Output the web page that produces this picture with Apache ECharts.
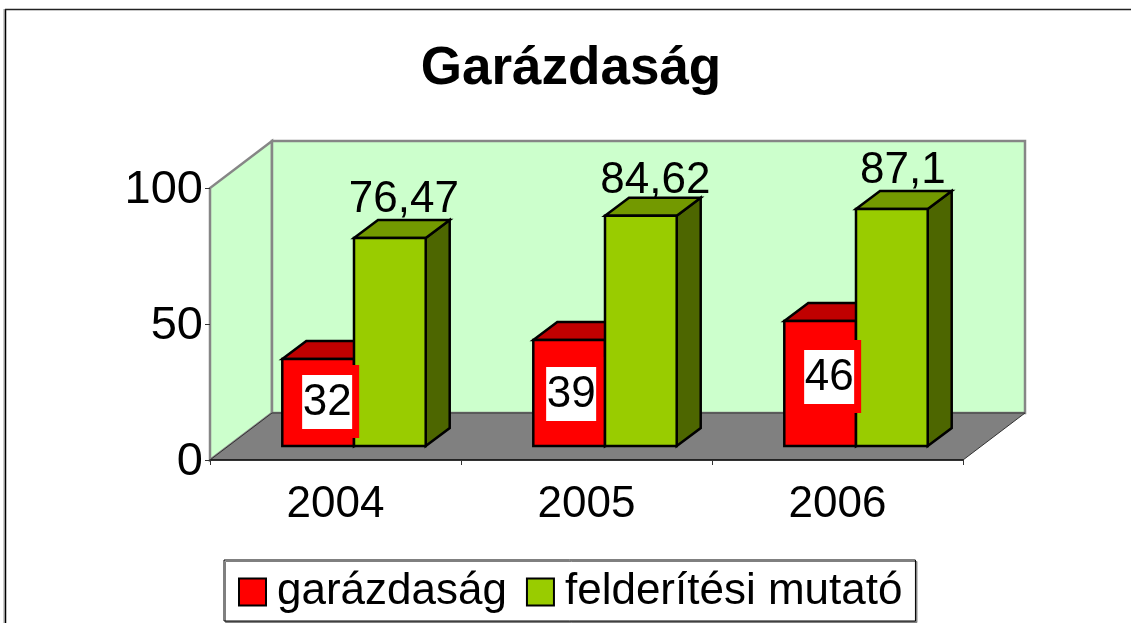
<!DOCTYPE html>
<html>
<head>
<meta charset="utf-8">
<style>
  html, body { margin: 0; padding: 0; background: #fff; }
  #chart { width: 1131px; height: 623px; }
</style>
<script src="https://cdn.jsdelivr.net/npm/echarts@6/dist/echarts.min.js"></script>
</head>
<body>
<div id="chart"></div>
<script>
const titleText = 'Garázdaság'
const years = ['2004', '2005', '2006']
const incidentName = 'garázdaság'
const detectionName = 'felderítési mutató'
const incidents = [32, 39, 46]
const detectionRate = [76.47, 84.62, 87.1]
const yTicks = [0, 50, 100]

// hand placed labels, offset from the middle of the bar
const incidentShiftX = [9, 2, 9]
const incidentShiftY = [-0.5, 1, -6.5]
const detectionShiftX = [2, 2.5, -1]
const detectionShiftY = [-20, -17, -20]

const fontName = '"Liberation Sans", Arial, sans-serif'
const floorOffset = [18.5, -14] // front of the floor to the front of the bars
const barDepth = [24, -18]
const wallOffset = [62, -47]
const barShare = 0.2857

function poly(points, fill, stroke, lineWidth) {
  return {
    type: 'polygon',
    shape: { points: points },
    style: { fill: fill, stroke: stroke, lineWidth: lineWidth === undefined ? 2.5 : lineWidth, lineJoin: 'miter' }
  }
}

function renderWalls(params) {
  const r = params.coordSys
  const x0 = r.x
  const x1 = r.x + r.width
  const top = r.y
  const bot = r.y + r.height
  const dx = wallOffset[0]
  const dy = wallOffset[1]
  return {
    type: 'group',
    children: [
      poly([[x0, bot], [x0 + dx, bot + dy], [x0 + dx, top + dy], [x0, top]], '#ccffcc', '#868686', 2.5),
      poly([[x0 + dx, bot + dy], [x1 + dx, bot + dy], [x1 + dx, top + dy], [x0 + dx, top + dy]], '#ccffcc', '#868686', 2.5),
      poly([[x0, bot], [x1, bot], [x1 + dx, bot + dy], [x0 + dx, bot + dy]], '#808080', '#333333', 1)
    ]
  }
}

function makeBarRenderer(side, front, roof, flank) {
  return function (params, api) {
    const i = api.value(0)
    const tip = api.coord([i, api.value(1)])
    const base = api.coord([i, 0])
    const w = api.size([1, 0])[0] * barShare
    const left = tip[0] + floorOffset[0] + (side < 0 ? -w : 0)
    const right = left + w
    const y0 = base[1] + floorOffset[1]
    const y1 = tip[1] + floorOffset[1]
    const dx = barDepth[0]
    const dy = barDepth[1]
    return {
      type: 'group',
      children: [
        poly([[right, y0], [right + dx, y0 + dy], [right + dx, y1 + dy], [right, y1]], flank, '#000'),
        poly([[left, y1], [left + dx, y1 + dy], [right + dx, y1 + dy], [right, y1]], roof, '#000'),
        poly([[left, y0], [right, y0], [right, y1], [left, y1]], front, '#000')
      ]
    }
  }
}

function renderIncidentLabel(params, api) {
  const i = api.value(0)
  const tip = api.coord([i, api.value(1)])
  const base = api.coord([i, 0])
  const w = api.size([1, 0])[0] * barShare
  const cx = tip[0] + floorOffset[0] - w / 2 + incidentShiftX[i]
  const cy = (tip[1] + base[1]) / 2 + floorOffset[1] + incidentShiftY[i]
  return {
    type: 'group',
    children: [
      { type: 'rect', shape: { x: cx - 25, y: cy - 37, width: 57, height: 73 }, style: { fill: '#ff0000' } },
      { type: 'rect', shape: { x: cx - 25, y: cy - 27, width: 50, height: 54 }, style: { fill: '#ffffff' } },
      {
        type: 'text',
        style: {
          x: cx, y: cy + 1, text: String(api.value(1)), fill: '#000',
          font: '44px ' + fontName, align: 'center', verticalAlign: 'middle'
        }
      }
    ]
  }
}

function renderDetectionLabel(params, api) {
  const i = api.value(0)
  const tip = api.coord([i, api.value(1)])
  const w = api.size([1, 0])[0] * barShare
  const cx = tip[0] + floorOffset[0] + w / 2 + barDepth[0] / 2 + detectionShiftX[i]
  const cy = tip[1] + floorOffset[1] + barDepth[1] + detectionShiftY[i]
  return {
    type: 'text',
    style: {
      x: cx, y: cy, text: String(api.value(1)).replace('.', ','), fill: '#000',
      font: '44px ' + fontName, align: 'center', verticalAlign: 'middle'
    }
  }
}

const chart = echarts.init(document.getElementById('chart'), null, { renderer: 'canvas' })
chart.setOption({
  animation: false,
  backgroundColor: '#ffffff',
  title: {
    text: titleText,
    left: 566,
    top: 38,
    textAlign: 'center',
    textStyle: { fontFamily: fontName, fontSize: 53, fontWeight: 'bold', color: '#000' }
  },
  graphic: [
    { type: 'line', shape: { x1: 4, y1: 9, x2: 4, y2: 623 }, style: { stroke: '#cccccc', lineWidth: 2 } },
    { type: 'line', shape: { x1: 5.5, y1: 9, x2: 5.5, y2: 623 }, style: { stroke: '#000', lineWidth: 1.5 } },
    { type: 'line', shape: { x1: 5, y1: 9.5, x2: 1131, y2: 9.5 }, style: { stroke: '#222', lineWidth: 1.5 } }
  ],
  legend: {
    left: 224,
    top: 560,
    orient: 'horizontal',
    data: [incidentName, detectionName],
    icon: 'rect',
    itemWidth: 27,
    itemHeight: 27,
    itemGap: 19,
    padding: [10, 13, 7, 14],
    backgroundColor: '#fff',
    borderColor: '#000',
    borderWidth: 1,
    shadowColor: '#808080',
    shadowOffsetX: 1.5,
    shadowOffsetY: 1.5,
    textStyle: { fontFamily: fontName, fontSize: 44, color: '#000', padding: [0, 0, 0, 6], lineHeight: 44 }
  },
  grid: { left: 210, right: 168, top: 188, bottom: 163, containLabel: false },
  xAxis: {
    type: 'category',
    data: years,
    boundaryGap: true,
    z: 10,
    axisLine: { lineStyle: { color: '#111', width: 1.5 } },
    axisTick: { show: true, length: 5, alignWithLabel: false, lineStyle: { color: '#333', width: 1 } },
    axisLabel: { fontFamily: fontName, fontSize: 44, color: '#000', margin: 23 },
    splitLine: { show: false }
  },
  yAxis: {
    type: 'value',
    min: yTicks[0],
    max: yTicks[yTicks.length - 1],
    interval: yTicks[1] - yTicks[0],
    z: 10,
    axisLine: { show: true, lineStyle: { color: '#868686', width: 2 } },
    axisTick: { show: true, length: 5, lineStyle: { color: '#333' } },
    axisLabel: {
      margin: 7,
      formatter: value => '{tick|' + value + '}',
      rich: {
        tick: { fontFamily: fontName, fontSize: 47, color: '#000', lineHeight: 47, padding: [5, 0, 0, 0] }
      }
    },
    splitLine: { show: false }
  },
  series: [
    {
      type: 'custom',
      name: 'walls',
      silent: true,
      z: 1,
      renderItem: renderWalls,
      data: [[0, 0]]
    },
    {
      type: 'custom',
      name: incidentName,
      z: 2,
      itemStyle: { color: '#ff0000', borderColor: '#000', borderWidth: 2.5 },
      renderItem: makeBarRenderer(-1, '#ff0000', '#c00000', '#800000'),
      encode: { x: 0, y: 1 },
      data: incidents.map((v, i) => [i, v])
    },
    {
      type: 'custom',
      name: detectionName,
      z: 3,
      itemStyle: { color: '#99cc00', borderColor: '#000', borderWidth: 2.5 },
      renderItem: makeBarRenderer(1, '#99cc00', '#739900', '#4d6600'),
      encode: { x: 0, y: 1 },
      data: detectionRate.map((v, i) => [i, v])
    },
    {
      type: 'custom',
      name: 'incident labels',
      z: 4,
      renderItem: renderIncidentLabel,
      encode: { x: 0, y: 1 },
      data: incidents.map((v, i) => [i, v])
    },
    {
      type: 'custom',
      name: 'detection labels',
      z: 4,
      renderItem: renderDetectionLabel,
      encode: { x: 0, y: 1 },
      data: detectionRate.map((v, i) => [i, v])
    }
  ]
})
</script>
</body>
</html>
